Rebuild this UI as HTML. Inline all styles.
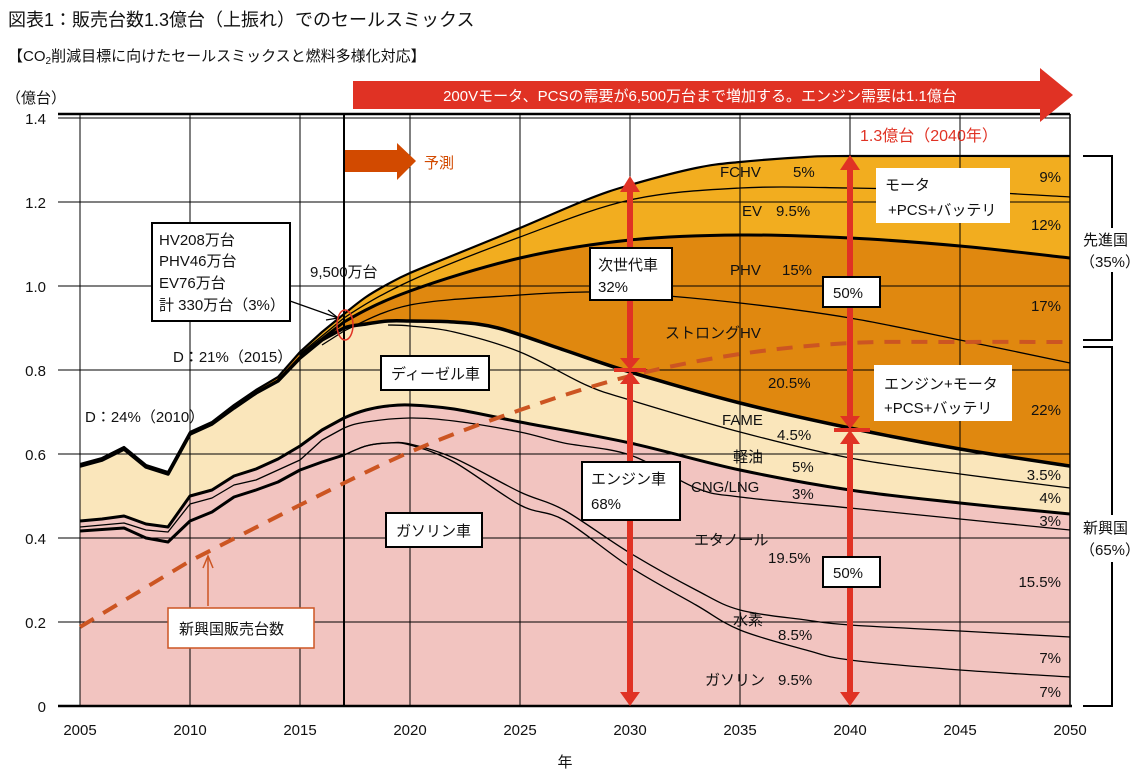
<!DOCTYPE html>
<html><head><meta charset="utf-8"><style>
body{margin:0;background:#fff;width:1140px;height:779px;overflow:hidden}
svg{display:block}
text{font-family:"Liberation Sans","Noto Sans CJK JP",sans-serif;fill:#111}
</style></head><body>
<svg id="s" width="1140" height="779" viewBox="0 0 1140 779" xmlns="http://www.w3.org/2000/svg">
<g id="fills"></g>
<g id="grid" stroke="#000" stroke-width="1"></g>
<g id="lines" fill="none" stroke="#000" stroke-linejoin="round"></g>
</svg>
<script>
const X=yr=>80+22*(yr-2005);
const T=[[2005,464],[2006,458],[2007,447],[2008,465],[2009,472],[2010,432],[2011,422],[2012,405],[2013,390],[2014,377],[2015,352],[2016,332],[2017,314],[2018,297],[2019,284],[2020,273],[2022,255],[2025,228],[2028,200],[2030,185],[2033,168],[2035,162],[2038,157],[2040,156],[2050,156]];
const EV=[[2015,354],[2017,318],[2020,281],[2025,237],[2030,200],[2035,188],[2040,188],[2045,191],[2050,197]];
const PHV=[[2015,356],[2017,322],[2020,291],[2025,258],[2030,240],[2035,235],[2040,238],[2045,246],[2050,258]];
const SHV=[[2016,345],[2017,331],[2020,305],[2025,295],[2028,292],[2030,293],[2035,303],[2040,318],[2045,340],[2050,363]];
const D=[[2005,466],[2006,460],[2007,449],[2008,467],[2009,474],[2010,434],[2011,424],[2012,408],[2013,393],[2014,381],[2015,358],[2016,340],[2017,328],[2018,324],[2019,321],[2020,321],[2022,322],[2024,328],[2027,350],[2030,372],[2035,403],[2040,428],[2045,449],[2050,466]];
const FAME=[[2019,325],[2020,326],[2022,332],[2025,352],[2028,385],[2030,400],[2035,432],[2040,458],[2045,474],[2050,488]];
const G0=[[2005,521],[2006,519],[2007,516],[2008,524],[2009,527],[2010,496],[2011,490],[2012,476],[2013,469],[2014,459],[2015,446],[2016,430],[2017,418],[2018,410],[2019,406],[2020,405],[2022,409],[2025,422],[2030,443],[2035,470],[2040,490],[2045,503],[2050,514]];
const CNG=[[2005,527],[2007,523],[2008,530],[2009,532],[2010,504],[2011,498],[2012,485],[2013,480],[2014,470],[2015,460],[2016,440],[2017,428],[2018,422],[2020,418],[2022,421],[2025,432],[2027,443],[2030,455],[2033,488],[2035,497],[2040,508],[2045,519],[2050,530]];
const LOW=[[2005,531],[2007,528],[2008,538],[2009,542],[2010,521],[2011,512],[2012,497],[2013,490],[2014,482],[2015,470],[2016,462],[2017,455]];
const H=[[2017,455],[2018,446],[2019,443],[2020,444],[2022,458],[2025,492],[2027,510],[2030,553],[2033,590],[2035,610],[2038,620],[2040,625],[2045,631],[2050,637]];
const Gs=[[2017,455],[2018,446],[2019,443],[2020,445],[2022,462],[2025,505],[2027,520],[2030,567],[2033,605],[2035,630],[2038,650],[2040,660],[2045,670],[2050,677]];
function cr(a,start){
  let yrs=a.map(p=>p[0]);
  let p=a.map(q=>[X(q[0]),q[1]]),s=(start?'M':'L')+p[0][0]+','+p[0][1];
  for(let i=0;i<p.length-1;i++){
    const lo=Math.min(yrs[i],yrs[i+1]),hi=Math.max(yrs[i],yrs[i+1]);
    if(hi<=2017){s+=`L${p[i+1][0]},${p[i+1][1]}`;continue;}
    const p0=p[i-1]||p[i],p1=p[i],p2=p[i+1],p3=p[i+2]||p2;
    const c1=[p1[0]+(p2[0]-p0[0])/6,p1[1]+(p2[1]-p0[1])/6],c2=[p2[0]-(p3[0]-p1[0])/6,p2[1]-(p3[1]-p1[1])/6];
    s+=`C${c1[0].toFixed(1)},${c1[1].toFixed(1)} ${c2[0].toFixed(1)},${c2[1].toFixed(1)} ${p2[0]},${p2[1]}`;
  }
  return s;
}
function rev(a){return a.slice().reverse();}
const NS='http://www.w3.org/2000/svg';
function el(par,tag,at){const e=document.createElementNS(NS,tag);for(const k in at)e.setAttribute(k,at[k]);document.getElementById(par).appendChild(e);return e;}
el('fills','path',{d:cr(G0,1)+'L1070,706L80,706Z',fill:'#f2c4c0'});
el('fills','path',{d:cr(T,1)+cr(rev(G0),0)+'Z',fill:'#fae6bb'});
el('fills','path',{d:cr(T,1)+cr(rev(D),0)+'Z',fill:'#e0880f'});
el('fills','path',{d:cr(T.filter(p=>p[0]>=2015),1)+cr(rev(PHV),0)+'Z',fill:'#f2ad1f'});
for(let y=2005;y<=2050;y+=5)el('grid','line',{x1:X(y),y1:114,x2:X(y),y2:706});
for(let i=0;i<7;i++){const yy=118+84*i;el('grid','line',{x1:58,y1:yy,x2:1070,y2:yy});}
el('grid','line',{x1:344,y1:114,x2:344,y2:706,'stroke-width':2});
el('grid','line',{x1:58,y1:114,x2:1070,y2:114,'stroke-width':2.5});
el('grid','line',{x1:58,y1:706,x2:1072,y2:706,'stroke-width':2.5});
el('grid','line',{x1:1070,y1:114,x2:1070,y2:706,'stroke-width':1.5});
const L=[[T,2.2],[EV,1.3],[PHV,3],[SHV,1.3],[D,3.5],[FAME,1.3],[G0,3],[CNG,1.3],[LOW,3],[H,1.3],[Gs,1.3]];
L.forEach(l=>el('lines','path',{d:cr(l[0],1),'stroke-width':l[1]}));
const DASH=[[2005,627],[2010,561],[2015,505],[2020,452],[2025,410],[2030,376],[2035,354],[2040,343],[2045,342],[2050,342]];
el('lines','path',{d:cr(DASH,1).replace(/L/g,'L'),stroke:'#cc5522','stroke-width':4,'stroke-dasharray':'16,11'});
</script>
<svg width="1140" height="779" style="position:absolute;left:0;top:0" xmlns="http://www.w3.org/2000/svg">
<text x="8" y="26" font-size="18">図表1：販売台数1.3億台（上振れ）でのセールスミックス</text>
<text x="8" y="61" font-size="15">【CO<tspan font-size="10" dy="3">2</tspan><tspan dy="-3">削減目標に向けたセールスミックスと燃料多様化対応】</tspan></text>
<text x="6" y="103" font-size="15">（億台）</text>
<g font-size="15" text-anchor="end">
<text x="46" y="124">1.4</text><text x="46" y="208">1.2</text><text x="46" y="292">1.0</text><text x="46" y="376">0.8</text><text x="46" y="460">0.6</text><text x="46" y="544">0.4</text><text x="46" y="628">0.2</text><text x="46" y="712">0</text>
</g>
<g font-size="15" text-anchor="middle">
<text x="80" y="735">2005</text><text x="190" y="735">2010</text><text x="300" y="735">2015</text><text x="410" y="735">2020</text><text x="520" y="735">2025</text><text x="630" y="735">2030</text><text x="740" y="735">2035</text><text x="850" y="735">2040</text><text x="960" y="735">2045</text><text x="1070" y="735">2050</text>
<text x="565" y="767">年</text>
</g>
<polygon points="353,81 1040,81 1040,68 1073,95 1040,122 1040,109 353,109" fill="#e03224"/>
<text x="700" y="101" font-size="15" text-anchor="middle" style="fill:#fff">200Vモータ、PCSの需要が6,500万台まで増加する。エンジン需要は1.1億台</text>
<text x="860" y="141" font-size="16" style="fill:#e03224">1.3億台（2040年）</text>
<polygon points="345,150 397,150 397,143 416,161 397,180 397,172 345,172" fill="#d24a00"/>
<text x="424" y="168" font-size="15" style="fill:#d24a00">予測</text>
<g fill="#e03224" stroke="none">
<rect x="627" y="190" width="6" height="170"/><polygon points="620,192 640,192 630,176"/><polygon points="620,358 640,358 630,370"/>
<rect x="627" y="382" width="6" height="310"/><polygon points="620,384 640,384 630,371"/><polygon points="620,692 640,692 630,706"/>
<rect x="614" y="368" width="32" height="4"/>
<rect x="847" y="168" width="6" height="250"/><polygon points="840,170 860,170 850,155"/><polygon points="840,416 860,416 850,429"/>
<rect x="847" y="442" width="6" height="250"/><polygon points="840,444 860,444 850,430"/><polygon points="840,692 860,692 850,706"/>
<rect x="834" y="428" width="36" height="4"/>
</g>
<g fill="#fff" stroke="#000" stroke-width="2">
<rect x="152" y="223" width="138" height="98"/>
<rect x="590" y="248" width="82" height="52"/>
<rect x="582" y="462" width="98" height="58"/>
<rect x="823" y="277" width="57" height="30"/>
<rect x="823" y="557" width="57" height="30"/>
<rect x="381" y="356" width="108" height="34"/>
<rect x="386" y="513" width="96" height="34"/>
<rect x="168" y="608" width="146" height="40" stroke="#cc5522" stroke-width="1.5"/>
</g>
<rect x="876" y="168" width="134" height="55" fill="#fff"/>
<rect x="874" y="365" width="138" height="56" fill="#fff"/>
<g font-size="15">
<text x="159" y="245">HV208万台</text><text x="159" y="266">PHV46万台</text><text x="159" y="288">EV76万台</text><text x="159" y="310">計 330万台（3%）</text>
<text x="598" y="270">次世代車</text><text x="598" y="292">32%</text>
<text x="591" y="484">エンジン車</text><text x="591" y="509">68%</text>
<text x="833" y="298">50%</text><text x="833" y="578">50%</text>
<text x="391" y="379">ディーゼル車</text><text x="396" y="536">ガソリン車</text>
<text x="179" y="634">新興国販売台数</text>
<text x="885" y="190">モータ</text><text x="888" y="215">+PCS+バッテリ</text>
<text x="884" y="389">エンジン+モータ</text><text x="884" y="413">+PCS+バッテリ</text>
<text x="85" y="422">D：24%（2010）</text><text x="173" y="362">D：21%（2015）</text><text x="310" y="277">9,500万台</text>
<text x="720" y="177">FCHV</text><text x="793" y="177">5%</text>
<text x="742" y="216">EV</text><text x="776" y="216">9.5%</text>
<text x="730" y="275">PHV</text><text x="782" y="275">15%</text>
<text x="665" y="338">ストロングHV</text><text x="768" y="388">20.5%</text>
<text x="722" y="425">FAME</text><text x="777" y="440">4.5%</text>
<text x="733" y="462">軽油</text><text x="792" y="472">5%</text>
<text x="691" y="492">CNG/LNG</text><text x="792" y="499">3%</text>
<text x="694" y="545">エタノール</text><text x="768" y="563">19.5%</text>
<text x="733" y="625">水素</text><text x="778" y="640">8.5%</text>
<text x="705" y="685">ガソリン</text><text x="778" y="685">9.5%</text>
<g text-anchor="end">
<text x="1061" y="182">9%</text><text x="1061" y="230">12%</text><text x="1061" y="311">17%</text><text x="1061" y="415">22%</text><text x="1061" y="480">3.5%</text><text x="1061" y="503">4%</text><text x="1061" y="526">3%</text><text x="1061" y="587">15.5%</text><text x="1061" y="663">7%</text><text x="1061" y="697">7%</text>
</g>
<text x="1083" y="245">先進国</text><text x="1080" y="267">（35%）</text>
<text x="1083" y="533">新興国</text><text x="1080" y="555">（65%）</text>
</g>
<g fill="none" stroke="#000" stroke-width="2">
<polyline points="1083,156 1112,156 1112,228"/><polyline points="1112,272 1112,340 1083,340"/>
<polyline points="1083,347 1112,347 1112,515"/><polyline points="1112,562 1112,706 1083,706"/>
</g>
<line x1="290" y1="301" x2="338" y2="318" stroke="#000" stroke-width="1.3"/>
<polyline points="328,310 338,318 326,320" fill="none" stroke="#000" stroke-width="1.3"/>
<ellipse cx="345" cy="325" rx="8" ry="15" fill="none" stroke="#e03224" stroke-width="1.5"/>
<line x1="208" y1="606" x2="208" y2="558" stroke="#cc5522" stroke-width="1.5"/>
<polyline points="203,568 208,556 213,568" fill="none" stroke="#cc5522" stroke-width="1.5"/>
</svg>
</body></html>
